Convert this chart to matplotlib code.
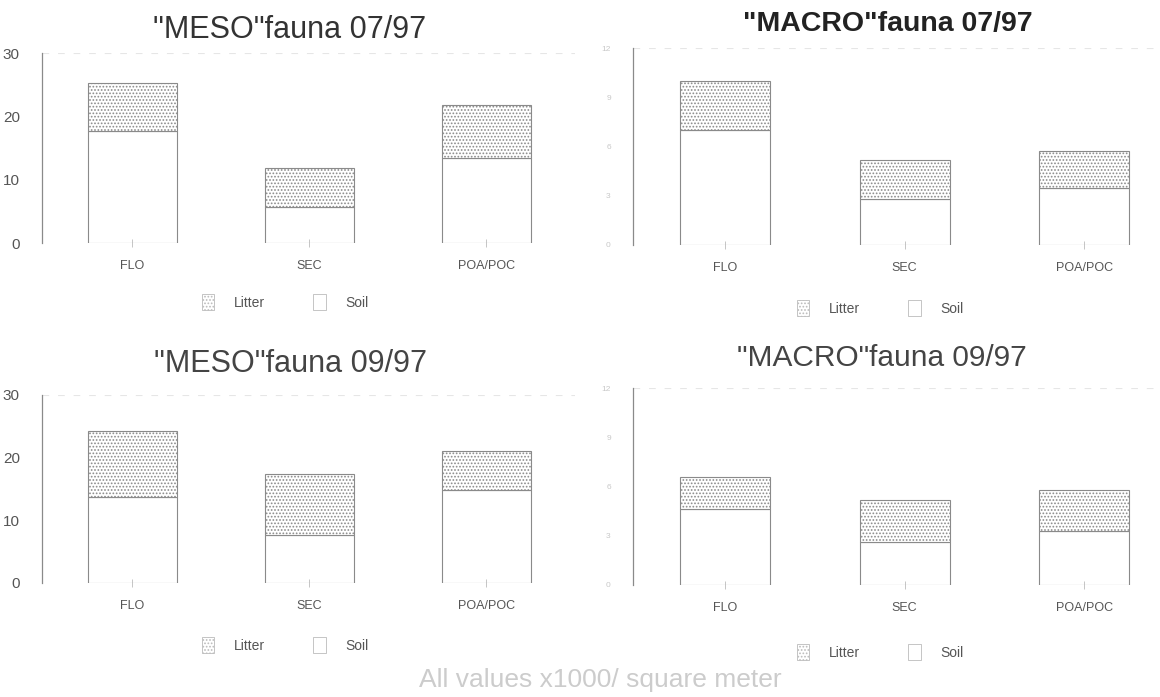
import matplotlib
matplotlib.use("Agg")
import matplotlib.pyplot as plt
from matplotlib.patches import Patch

plt.rcParams['font.family'] = ['Liberation Sans', 'DejaVu Sans']
plt.rcParams['hatch.color'] = '#9a9a9a'
plt.rcParams['hatch.linewidth'] = 0.8

sites = ["FLO", "SEC", "POA/POC"]

# densities per site (x1000 / m2): soil part and soil+litter total
meso_0797_soil = [17.7, 5.7, 13.4]
meso_0797_total = [25.2, 11.8, 21.8]
macro_0797_soil = [7.0, 2.8, 3.5]
macro_0797_total = [10.0, 5.2, 5.7]
meso_0997_soil = [13.7, 7.7, 14.9]
meso_0997_total = [24.2, 17.4, 21.1]
macro_0997_soil = [4.6, 2.6, 3.3]
macro_0997_total = [6.6, 5.2, 5.8]

meso_ticks = [0, 10, 20, 30]
macro_ticks = [0, 3, 6, 9, 12]

edge = '#8a8a8a'
txt = '#555555'

fig = plt.figure(figsize=(11.6, 6.97), dpi=100)


def panel(rect, soil, total, ticks, xmax, tickcolor, ticksize):
    ax = fig.add_axes(rect)
    x = range(len(sites))
    litter = [t - s for s, t in zip(soil, total)]
    ax.bar(x, soil, width=0.5, color='white', edgecolor=edge, linewidth=0.8)
    ax.bar(x, litter, bottom=soil, width=0.5, color='white', edgecolor=edge,
           linewidth=0.8, hatch='.....')
    ax.set_xlim(-0.51, xmax)
    ax.set_ylim(0, ticks[-1])
    ax.set_yticks(ticks)
    ax.set_xticks(list(x))
    ax.set_xticklabels(sites)
    ax.tick_params(axis='y', length=0, colors=tickcolor, labelsize=ticksize, pad=16)
    ax.tick_params(axis='x', length=6, width=0.6, color='#bbbbbb', colors=txt,
                   labelsize=9, pad=9, direction='inout')
    for s in ['top', 'right', 'bottom']:
        ax.spines[s].set_visible(False)
    ax.spines['left'].set_color(edge)
    ax.spines['left'].set_linewidth(0.9)
    ax.axhline(ticks[-1], color='#e6e6e6', lw=0.8, ls=(0, (6, 8)))
    ax.patch.set_alpha(0)
    return ax


panel([0.0362, 0.6513, 0.4595, 0.2726], meso_0797_soil, meso_0797_total,
      meso_ticks, 2.5, txt, 11)
panel([0.5457, 0.6485, 0.4543, 0.2826], macro_0797_soil, macro_0797_total,
      macro_ticks, 2.42, '#c8c8c8', 6)
panel([0.0362, 0.1636, 0.4595, 0.2697], meso_0997_soil, meso_0997_total,
      meso_ticks, 2.5, txt, 11)
panel([0.5457, 0.1607, 0.4543, 0.2826], macro_0997_soil, macro_0997_total,
      macro_ticks, 2.42, '#c8c8c8', 6)

W, H = 1160, 697


def ftext(x, y, s, **kw):
    fig.text(x / W, 1 - y / H, s, ha='center', va='center', **kw)


ftext(290, 30, '"MESO"fauna 07/97', fontsize=22, color='#333333')
ftext(888, 24, '"MACRO"fauna 07/97', fontsize=20.5, color='#222222', fontweight='bold')
ftext(290, 364, '"MESO"fauna 09/97', fontsize=22, color='#444444')
ftext(882, 358, '"MACRO"fauna 09/97', fontsize=21.5, color='#444444')

handles = [Patch(facecolor='white', edgecolor='#bbbbbb', hatch='.....', lw=0.6),
           Patch(facecolor='white', edgecolor='#bbbbbb', lw=0.6)]
names = ['Litter', 'Soil']
for cx, cy in [(285, 302), (880, 308), (285, 645), (880, 652)]:
    fig.legend(handles, names, loc='center', bbox_to_anchor=(cx / W, 1 - cy / H),
               ncol=2, frameon=False, fontsize=10, labelcolor=txt,
               handlelength=0.9, handleheight=1.5, columnspacing=3.5,
               handletextpad=1.4)

ftext(600, 680, 'All values x1000/ square meter', fontsize=19, color='#cccccc')

fig.savefig('out.png', dpi=100)
